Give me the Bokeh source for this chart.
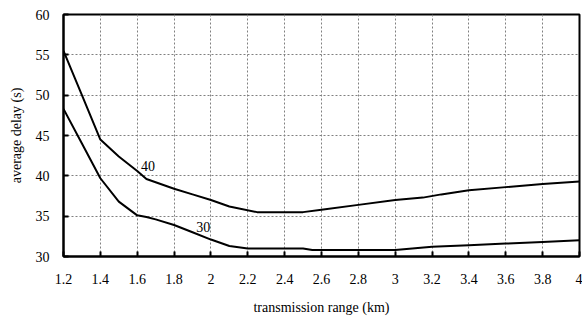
from bokeh.plotting import figure
from bokeh.models import Range1d, FixedTicker, Label
from bokeh.embed import file_html
from bokeh.resources import INLINE

# Data
x40 = [1.2, 1.3, 1.4, 1.5, 1.6, 1.65, 1.8, 1.9, 2.0, 2.1, 2.25, 2.4, 2.5, 2.6, 2.8, 3.0, 3.15, 3.25, 3.4, 3.6, 3.8, 4.0]
y40 = [55.5, 50.0, 44.5, 42.4, 40.6, 39.6, 38.4, 37.7, 37.0, 36.2, 35.5, 35.5, 35.5, 35.8, 36.4, 37.0, 37.3, 37.7, 38.2, 38.6, 39.0, 39.3]

x30 = [1.2, 1.3, 1.4, 1.5, 1.6, 1.65, 1.7, 1.8, 1.9, 2.0, 2.1, 2.2, 2.5, 2.55, 3.0, 3.2, 3.4, 3.6, 3.8, 4.0]
y30 = [48.3, 44.0, 39.7, 36.8, 35.1, 34.9, 34.6, 33.9, 33.0, 32.1, 31.3, 31.0, 31.0, 30.8, 30.8, 31.2, 31.4, 31.6, 31.8, 32.0]

x_ticks = [1.2, 1.4, 1.6, 1.8, 2.0, 2.2, 2.4, 2.6, 2.8, 3.0, 3.2, 3.4, 3.6, 3.8, 4.0]
x_tick_labels = ["1.2", "1.4", "1.6", "1.8", "2", "2.2", "2.4", "2.6", "2.8", "3", "3.2", "3.4", "3.6", "3.8", "4"]
y_ticks = [30, 35, 40, 45, 50, 55, 60]
y_tick_labels = ["30", "35", "40", "45", "50", "55", "60"]

series_labels = ["40", "30"]
label_pos = [(1.62, 40.6), (1.92, 33.0)]

FONT = "'Liberation Serif', 'Times New Roman', 'DejaVu Serif', serif"

p = figure(width=582, height=320, output_backend="svg", toolbar_location=None,
           x_range=Range1d(1.2, 4.0), y_range=Range1d(30, 60),
           min_border_left=63, min_border_right=3, min_border_top=14, min_border_bottom=64)
p.background_fill_color = "white"
p.border_fill_color = "white"
p.outline_line_color = "black"
p.outline_line_width = 2
p.outline_line_alpha = 1.0

for g in (p.xgrid, p.ygrid):
    g.grid_line_color = "#808080"
    g.grid_line_dash = "2 2"
    g.grid_line_width = 1

p.xaxis.ticker = FixedTicker(ticks=x_ticks)
p.yaxis.ticker = FixedTicker(ticks=y_ticks)
p.xaxis.major_label_overrides = {t: l for t, l in zip(x_ticks, x_tick_labels)}
p.yaxis.major_label_overrides = {t: l for t, l in zip(y_ticks, y_tick_labels)}

for ax in (p.xaxis, p.yaxis):
    ax.axis_line_color = "black"
    ax.axis_line_width = 2
    ax.major_tick_in = 5
    ax.major_tick_out = 0
    ax.major_tick_line_width = 2
    ax.major_tick_line_color = "black"
    ax.minor_tick_line_color = None
    ax.major_label_text_font = FONT
    ax.major_label_text_font_size = "14px"
    ax.major_label_text_color = "black"
    ax.axis_label_text_font = FONT
    ax.axis_label_text_font_size = "14px"
    ax.axis_label_text_font_style = "normal"
    ax.axis_label_text_color = "black"

p.xaxis.axis_label = "transmission range (km)"
p.yaxis.axis_label = "average delay (s)"
p.xaxis.major_label_standoff = 17
p.yaxis.major_label_standoff = 14
p.xaxis.axis_label_standoff = 13
p.yaxis.axis_label_standoff = 9

p.line(x40, y40, line_color="black", line_width=2)
p.line(x30, y30, line_color="black", line_width=2)

for txt, (lx, ly) in zip(series_labels, label_pos):
    p.add_layout(Label(x=lx, y=ly, text=txt, text_font=FONT, text_font_size="14px",
                       text_color="black", text_baseline="bottom", text_align="left"))

open("out.html", "w").write(file_html(p, INLINE))
